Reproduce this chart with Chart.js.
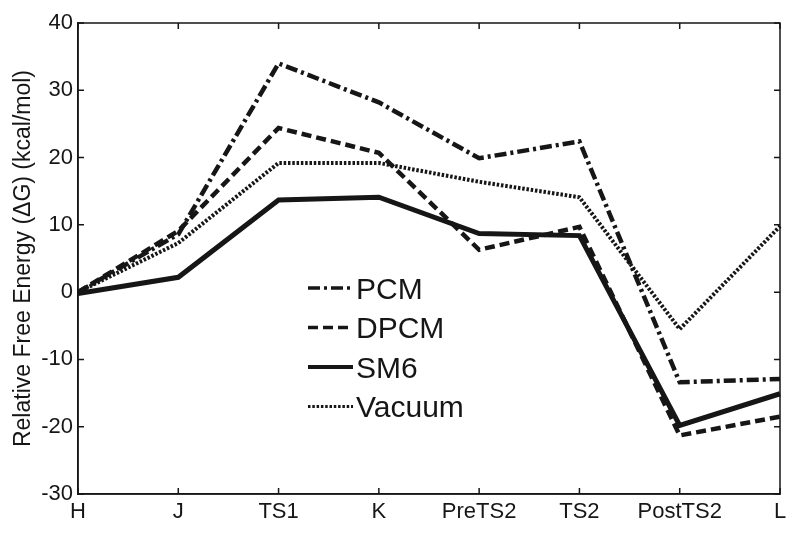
<!DOCTYPE html>
<html>
<head>
<meta charset="utf-8">
<script src="https://cdn.jsdelivr.net/npm/chart.js@4.4.1/dist/chart.umd.min.js"></script>
<style>
  html, body { margin: 0; padding: 0; background: #fff; }
  #chart { display: block; }
</style>
</head>
<body>
<canvas id="chart" width="800" height="533"></canvas>
<script>
// reaction coordinate
const labels = ['H', 'J', 'TS1', 'K', 'PreTS2', 'TS2', 'PostTS2', 'L'];

// relative free energies, kcal/mol
const pcm = [0, 8.6, 34.0, 28.2, 19.9, 22.4, -13.4, -12.9];
const dpcm = [0, 9.1, 24.4, 20.7, 6.3, 9.7, -21.3, -18.5];
const sm6 = [-0.2, 2.2, 13.7, 14.1, 8.7, 8.4, -19.8, -15.1];
const vacuum = [0, 7.3, 19.2, 19.2, 16.4, 14.1, -5.5, 9.8];

const yMin = -30;
const yMax = 40;
const yStep = 10;

const ink = '#161616';
const font = "'Liberation Sans', Arial, Helvetica, sans-serif";

const series = [
  { label: 'PCM', data: pcm, dash: [12, 4, 3, 4], width: 4.5 },
  { label: 'DPCM', data: dpcm, dash: [10, 5], width: 4.5 },
  { label: 'SM6', data: sm6, dash: [], width: 5 },
  { label: 'Vacuum', data: vacuum, dash: [2.5, 1.8], width: 4 },
];

// box round the plot with inward ticks, like the original
const frame = {
  id: 'frame',
  afterDraw(chart) {
    const { ctx, chartArea: a, scales } = chart;
    ctx.save();
    ctx.strokeStyle = ink;
    ctx.lineWidth = 1.5;
    ctx.strokeRect(a.left, a.top, a.right - a.left, a.bottom - a.top);
    const len = 6;
    ctx.beginPath();
    scales.x.ticks.forEach((t, i) => {
      const x = scales.x.getPixelForTick(i);
      ctx.moveTo(x, a.bottom); ctx.lineTo(x, a.bottom - len);
      ctx.moveTo(x, a.top); ctx.lineTo(x, a.top + len);
    });
    scales.y.ticks.forEach((t, i) => {
      const y = scales.y.getPixelForTick(i);
      ctx.moveTo(a.left, y); ctx.lineTo(a.left + len, y);
      ctx.moveTo(a.right, y); ctx.lineTo(a.right - len, y);
    });
    ctx.stroke();
    ctx.restore();
  }
};

// legend sits inside the axes
const innerLegend = {
  id: 'innerLegend',
  afterDatasetsDraw(chart) {
    const { ctx } = chart;
    const x0 = 308, x1 = 353, rowTop = 288, rowGap = 39.5;
    ctx.save();
    ctx.font = '30px ' + font;
    ctx.textBaseline = 'alphabetic';
    chart.data.datasets.forEach((ds, i) => {
      const y = rowTop + i * rowGap;
      ctx.strokeStyle = ink;
      ctx.lineWidth = ds.borderWidth - 1;
      ctx.setLineDash(ds.borderDash);
      ctx.beginPath();
      ctx.moveTo(x0, y);
      ctx.lineTo(x1, y);
      ctx.stroke();
      ctx.setLineDash([]);
      ctx.fillStyle = ink;
      ctx.fillText(ds.label, x1 + 3, y + 10.5);
    });
    ctx.restore();
  }
};

new Chart(document.getElementById('chart'), {
  type: 'line',
  data: {
    labels: labels,
    datasets: series.map(s => ({
      label: s.label,
      data: s.data,
      borderColor: ink,
      borderWidth: s.width,
      borderDash: s.dash,
      pointRadius: 0,
      tension: 0,
      fill: false,
    })),
  },
  options: {
    responsive: false,
    animation: false,
    layout: { padding: { top: 23, right: 20, left: 0, bottom: 0 } },
    plugins: {
      legend: { display: false },
      tooltip: { enabled: false },
    },
    scales: {
      x: {
        type: 'category',
        offset: false,
        grid: { display: false, drawTicks: false },
        border: { display: true, color: ink, width: 1.5 },
        ticks: {
          color: ink,
          font: { family: font, size: 22 },
          padding: 5,
          maxRotation: 0,
          autoSkip: false,
        },
        afterFit(s) { s.height = 39; },
      },
      y: {
        min: yMin,
        max: yMax,
        grid: { display: false, drawTicks: false },
        border: { display: true, color: ink, width: 1.5 },
        ticks: {
          stepSize: yStep,
          color: ink,
          font: { family: font, size: 22 },
          padding: 5,
        },
        title: {
          display: true,
          text: 'Relative Free Energy (\u0394G) (kcal/mol)',
          color: ink,
          font: { family: font, size: 23 },
          padding: { top: 10, bottom: 0 },
        },
        afterFit(s) { s.width = 78; },
      },
    },
  },
  plugins: [frame, innerLegend],
});
</script>
</body>
</html>
